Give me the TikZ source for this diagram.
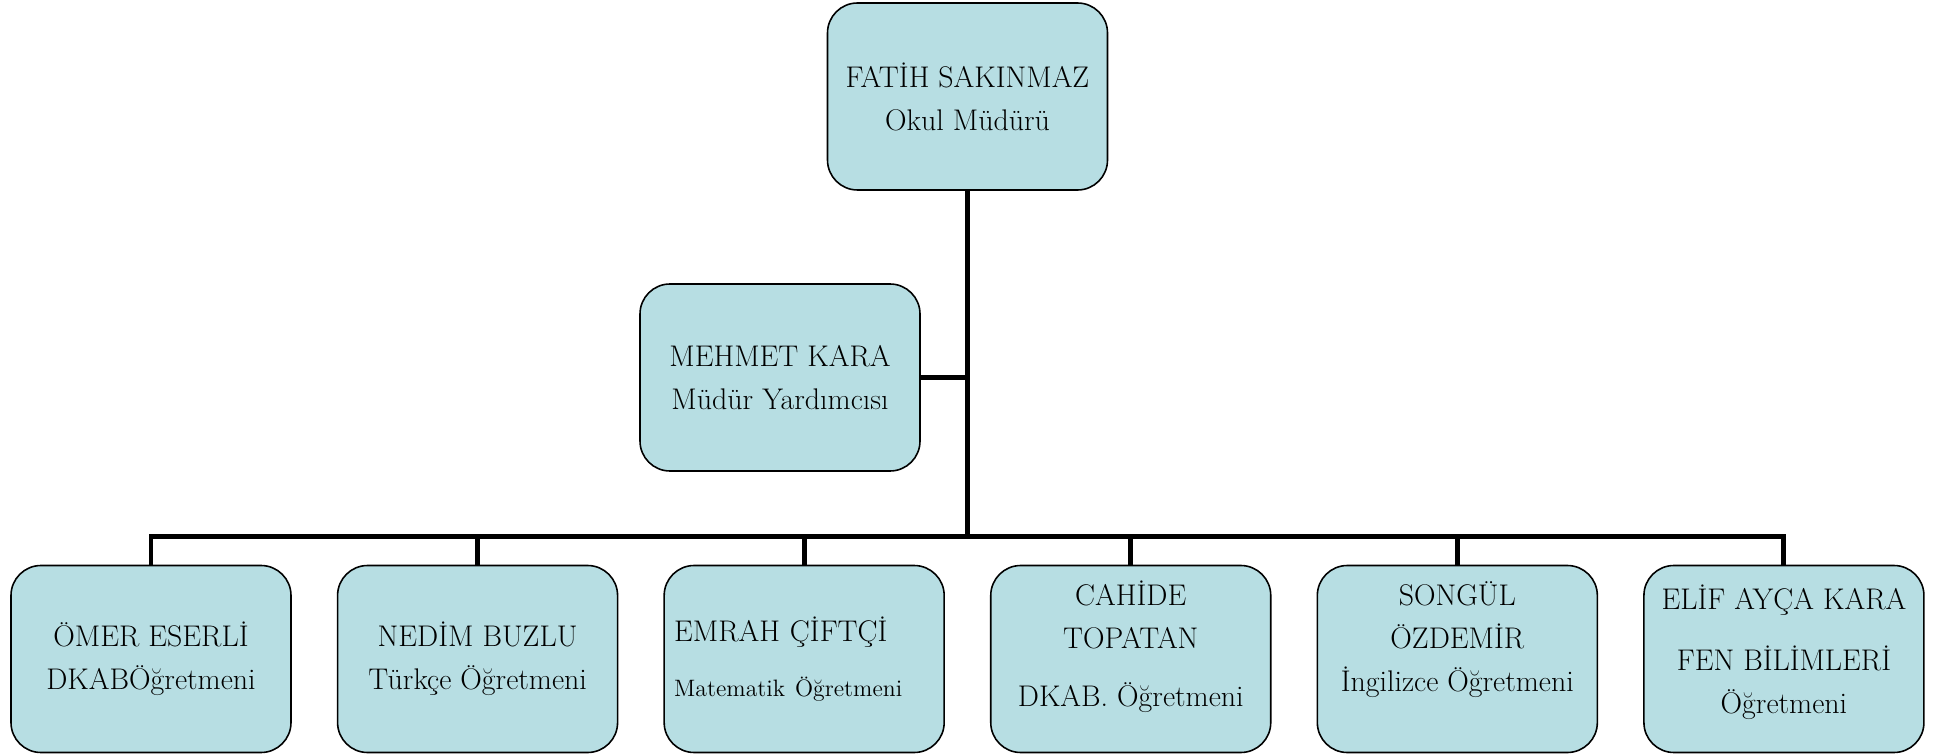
\documentclass[tikz,border=0pt]{standalone}
\usetikzlibrary{positioning}
\definecolor{kutumavi}{RGB}{183,222,227}
\begin{document}
\begin{tikzpicture}[node distance=0.9cm,
    kutu/.style={draw, rectangle, fill=kutumavi, line width=0.9pt, rounded corners=0.6cm,
        minimum width=5.6cm, minimum height=3.74cm, align=center,
        font=\fontsize{17}{24.5}\selectfont},
    hat/.style={line width=2.8pt}]

    % Marco de la imagen
    \useasboundingbox (0,0) rectangle (38.92,-15.08);

    % Nodo para el director
    \node (mudur) [kutu] at (19.35,-1.93) {FATİH SAKINMAZ\\Okul Müdürü};

    % Nodo para el subdirector
    \node (yardimci) [kutu] at (15.6,-7.55) {MEHMET KARA\\Müdür Yardımcısı};

    % Nodos para los maestros
    \node (omer) [kutu] at (3.02,-13.18) {ÖMER ESERLİ\\DKABÖğretmeni};
    \node (nedim) [kutu, right=of omer] {NEDİM BUZLU\\Türkçe Öğretmeni};
    \node (emrah) [kutu, right=of nedim, text width=5.2cm, align=left]
    {EMRAH ÇİFTÇİ\\[7pt]{\fontsize{13.5}{15}\selectfont Matematik Öğretmeni}};
    \node (cahide) [kutu, right=of emrah] {CAHİDE\\TOPATAN\\[8pt]DKAB. Öğretmeni\\[-7pt]\mbox{}};
    \node (songul) [kutu, right=of cahide] {SONGÜL\\ÖZDEMİR\\İngilizce Öğretmeni\\[1pt]\mbox{}};
    \node (elif) [kutu, right=of songul] {ELİF AYÇA KARA\\[10pt]FEN BİLİMLERİ\\Öğretmeni\\[-13pt]\mbox{}};

    % Punto de la barra horizontal
    \coordinate (bar) at ([yshift=0.57cm]omer.north);

    % Conectar nodos con lineas
    \draw[hat] (mudur.south) -- (mudur.south |- bar);
    \draw[hat] (yardimci.east) -- (yardimci.east -| mudur.south);
    \draw[hat] (omer.north) -- (omer.north |- bar) -- (elif.north |- bar) -- (elif.north);
    \foreach \n in {nedim,emrah,cahide,songul}
        \draw[hat] (\n.north) -- (\n.north |- bar);

\end{tikzpicture}
\end{document}
